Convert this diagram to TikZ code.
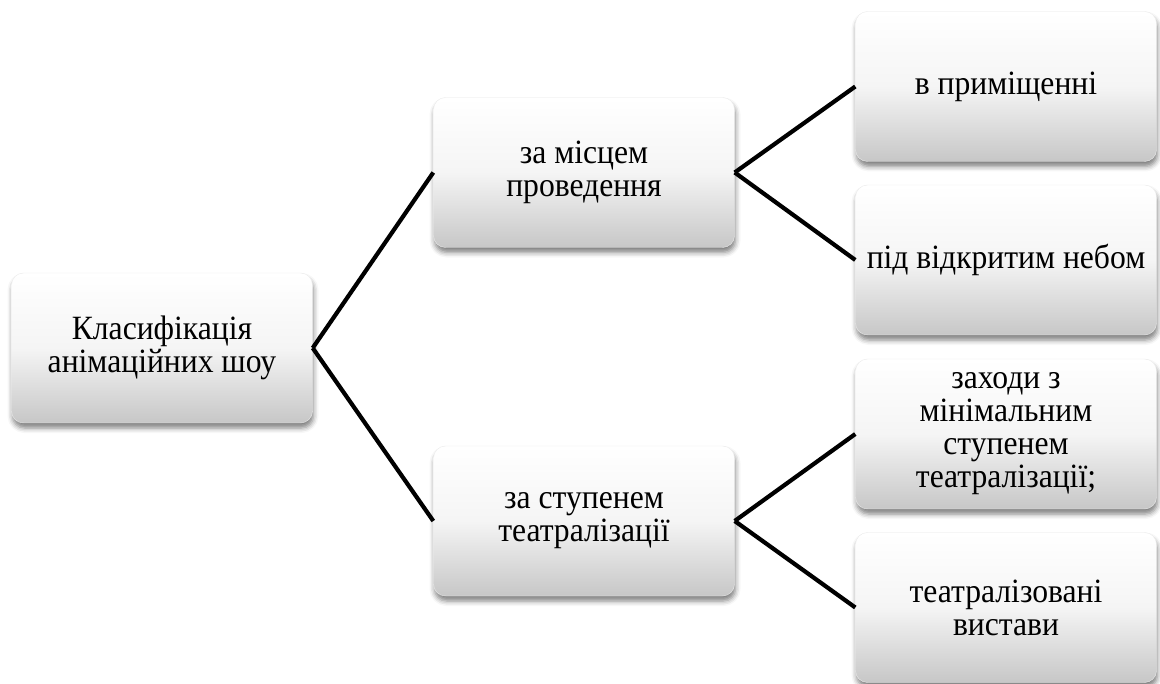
\documentclass[tikz,border=0pt]{standalone}
\usepackage{fontspec}
\setmainfont{Liberation Serif}[FakeStretch=0.93]
\usepackage{tikz}
\usetikzlibrary{shapes,arrows,shadows.blur}
\tikzstyle{block} = [rectangle, rounded corners=12pt, draw=black!8,
minimum width=301pt, minimum height=150pt, inner sep=3pt, align=center,
top color=white, bottom color=black!22, middle color=white!96!black,
blur shadow={shadow xshift=1pt, shadow yshift=-5pt, shadow blur radius=5pt, shadow opacity=50},
font=\fontsize{34}{33}\selectfont]
\tikzstyle{line} = [draw, line width=4.2pt, line join=round]

\begin{document}
\begin{tikzpicture}
	\useasboundingbox (0pt,0pt) rectangle (1160pt,-684pt);
	% Place nodes
	\node [block] (classShow) at (162pt,-348pt) {Класифікація\\анімаційних шоу};
	% Level 2
	\node [block, right of=classShow, node distance=422pt, yshift=175.5pt] (byPlace) {за місцем\\проведення};
	\node [block, right of=classShow, node distance=422pt, yshift=-173pt] (byTheatre) {за ступенем\\театралізації};
	% Level 3
	\node [block, right of=byPlace, node distance=422pt, yshift=86pt] (placeIndoor) {в приміщенні};
	\node [block, right of=byPlace, node distance=422pt, yshift=-87.5pt] (placeOutdoor) {під відкритим небом};
	\node [block, right of=byTheatre, node distance=422pt, yshift=87pt] (theatreMin) {заходи з\\мінімальним\\ступенем\\театралізації;};
	\node [block, right of=byTheatre, node distance=422pt, yshift=-86.5pt] (theatreShow) {театралізовані\\вистави};
	% Draw edges
	\path [line] (classShow.east) -- (byPlace.west);
	\path [line] (classShow.east) -- (byTheatre.west);
	\path [line] (byPlace.east) -- (placeIndoor.west);
	\path [line] (byPlace.east) -- (placeOutdoor.west);
	\path [line] (byTheatre.east) -- (theatreMin.west);
	\path [line] (byTheatre.east) -- (theatreShow.west);
\end{tikzpicture}
\end{document}
